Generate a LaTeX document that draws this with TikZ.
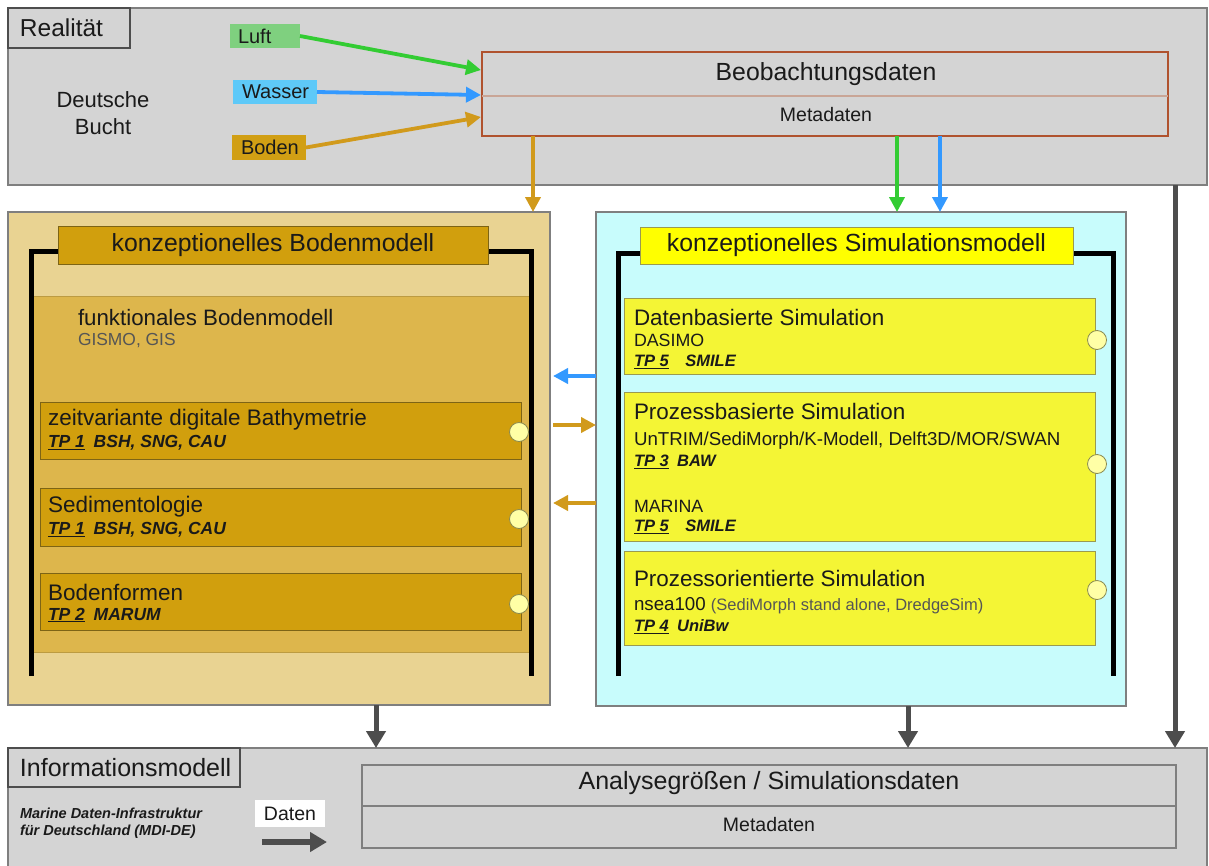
\documentclass[tikz,border=0pt]{standalone}
\usepackage{fontspec}
\setmainfont{Liberation Sans}
\usetikzlibrary{arrows.meta}
\definecolor{rgray}{HTML}{D4D4D4}
\definecolor{bord}{HTML}{7F7F7F}
\definecolor{lgreen}{HTML}{7FD07F}
\definecolor{lblue}{HTML}{5EC9F8}
\definecolor{bodenc}{HTML}{D19F14}
\definecolor{agreen}{HTML}{33CC33}
\definecolor{ablue}{HTML}{3399FF}
\definecolor{agold}{HTML}{D19A1C}
\definecolor{beobline}{HTML}{B0522E}
\definecolor{beobdiv}{HTML}{C9A596}
\definecolor{tanc}{HTML}{E9D392}
\definecolor{innertan}{HTML}{DDB64C}
\definecolor{goldc}{HTML}{D19F0D}
\definecolor{goldline}{HTML}{7D6415}
\definecolor{cyanc}{HTML}{C8FCFC}
\definecolor{ytab}{HTML}{FFFF00}
\definecolor{suby}{HTML}{F4F535}
\definecolor{yline}{HTML}{9A9A50}
\definecolor{knobfill}{HTML}{FFFFA6}
\definecolor{knobline}{HTML}{8A8A50}
\definecolor{dgray}{HTML}{4D4D4D}
\definecolor{txtgray}{HTML}{555555}
\definecolor{txt}{HTML}{1A1A1A}
\newcommand\fsz[1]{\fontsize{#1}{#1}\selectfont}
\newcommand\tp[2]{{\bfseries\itshape\underline{#1}\enspace #2}}
\tikzset{
  box/.style={draw, inner sep=0pt, outer sep=0pt, anchor=north west, text=txt},
  tag/.style={box, inner xsep=0pt, align=left},
  lbl/.style={anchor=west, inner sep=0pt, outer sep=0pt, text=txt},
  ctr/.style={inner sep=0pt, outer sep=0pt, text=txt},
  carr/.style={line width=3.8pt, -{Triangle[width=15pt,length=15pt]}},
  darr/.style={line width=5pt, draw=dgray, -{Triangle[width=19pt,length=17pt]}},
  knob/.style={circle, draw=knobline, fill=knobfill, minimum size=19pt, inner sep=0pt, line width=0.8pt},
  bracket/.style={line width=5pt, line cap=butt, line join=miter},
  subL/.style={box, fill=goldc, draw=goldline, line width=1pt, minimum width=481pt},
  subR/.style={box, fill=suby, draw=yline, line width=1pt, minimum width=471pt},
}
\begin{document}
\begin{tikzpicture}[x=1pt,y=-1pt]
\useasboundingbox (0,0) rectangle (1209,865);
\fill[white] (0,0) rectangle (1209,865);

% ---------- Realitaet ----------
\node[box, fill=rgray, draw=bord, line width=1.5pt, minimum width=1199pt, minimum height=177pt] (real) at (8,8) {};
\node[tag, fill=rgray, draw=dgray, line width=1.2pt, text width=122pt, minimum height=40pt, font=\fsz{24.5}] (realtab) at (8,8) {\hspace*{12pt}Realität};
\node[ctr, align=center, font=\fontsize{22}{27}\selectfont] (bucht) at (103,113) {Deutsche\\Bucht};

\node[tag, fill=lgreen, draw=none, text width=70pt, minimum height=24pt, font=\fsz{20}] (luft) at (230,24) {\hspace*{8pt}Luft};
\node[tag, fill=lblue, draw=none, text width=84pt, minimum height=24pt, font=\fsz{20}] (wasser) at (233,80) {\hspace*{9pt}Wasser};
\node[tag, fill=bodenc, draw=none, text width=74pt, minimum height=25pt, font=\fsz{20}] (boden) at (232,135) {\hspace*{9pt}Boden};

\node[box, fill=rgray, draw=beobline, line width=1.5pt, minimum width=686pt, minimum height=84pt] (beob) at (482,52) {};
\draw[beobdiv, line width=1.5pt] (482,96) -- (1168,96);
\node[ctr, font=\fsz{24.8}] (beobt) at (826,74) {Beobachtungsdaten};
\node[ctr, font=\fsz{19.5}] (beobm) at (826,115) {Metadaten};

\coordinate (in1) at (481,70);
\coordinate (in2) at (481,95);
\coordinate (in3) at (481,117);
\draw[carr, draw=agreen] (luft.east) -- (in1);
\draw[carr, draw=ablue] (wasser.east) -- (in2);
\draw[carr, draw=agold] (boden.east) -- (in3);

% ---------- left panel ----------
\node[box, fill=tanc, draw=bord, line width=1.2pt, minimum width=542pt, minimum height=493pt] (lp) at (8,212) {};
\node[box, fill=innertan, draw=innertan!85!black, line width=1pt, minimum width=496pt, minimum height=356pt] (linner) at (33,296) {};
\draw[bracket] (31,676) -- (31,251) -- (531,251) -- (531,676);
\node[box, fill=goldc, draw=goldline, line width=1pt, minimum width=430pt, minimum height=38pt, font=\fsz{24.8}] (ltab) at (58,226) {konzeptionelles Bodenmodell};

\node[lbl, font=\fsz{22.3}] (funk) at (78,318) {funktionales Bodenmodell};
\node[lbl, font=\fsz{17.4}, text=txtgray] (gismo) at (78,341) {GISMO, GIS};

\node[subL, minimum height=57pt] (zeit) at (40,402) {};
\node[lbl, font=\fsz{22.5}] (zeitt) at (48,420) {zeitvariante digitale Bathymetrie};
\node[lbl, font=\fsz{17.5}] (zeittp) at (48,443) {\tp{TP 1}{BSH, SNG, CAU}};

\node[subL, minimum height=58pt] (sedi) at (40,488) {};
\node[lbl, font=\fsz{22.5}] (sedit) at (48,507) {Sedimentologie};
\node[lbl, font=\fsz{17.5}] (seditp) at (48,530) {\tp{TP 1}{BSH, SNG, CAU}};

\node[subL, minimum height=57pt] (bform) at (40,573) {};
\node[lbl, font=\fsz{22.5}] (bformt) at (48,592) {Bodenformen};
\node[lbl, font=\fsz{17.5}] (bformtp) at (48,615) {\tp{TP 2}{MARUM}};

\node[knob] (k1) at (519,432) {};
\node[knob] (k2) at (519,519) {};
\node[knob] (k3) at (519,604) {};

% ---------- right panel ----------
\node[box, fill=cyanc, draw=bord, line width=1.2pt, minimum width=530pt, minimum height=494pt] (rp) at (596,212) {};
\draw[bracket] (618,676) -- (618,253) -- (1113,253) -- (1113,676);
\node[box, fill=ytab, draw=yline, line width=1pt, minimum width=433pt, minimum height=37pt, font=\fsz{24.8}] (rtab) at (640,227) {konzeptionelles Simulationsmodell};

\node[subR, minimum height=76pt] (dsim) at (624,298) {};
\node[lbl, font=\fsz{22.4}] (dsimt) at (634,317) {Datenbasierte Simulation};
\node[lbl, font=\fsz{17.8}] (dsimm) at (634,340) {DASIMO};
\node[lbl, font=\fsz{16.5}] (dsimtp) at (634,362) {\tp{TP 5}{\enspace SMILE}};

\node[subR, minimum height=149pt] (psim) at (624,392) {};
\node[lbl, font=\fsz{22.4}] (psimt) at (634,411) {Prozessbasierte Simulation};
\node[lbl, font=\fsz{18.7}] (psimm) at (634,441) {UnTRIM/SediMorph/K-Modell, Delft3D/MOR/SWAN};
\node[lbl, font=\fsz{16.5}] (psimtp) at (634,462) {\tp{TP 3}{BAW}};
\node[lbl, font=\fsz{17.8}] (psimm2) at (634,506) {MARINA};
\node[lbl, font=\fsz{16.5}] (psimtp2) at (634,527) {\tp{TP 5}{\enspace SMILE}};

\node[subR, minimum height=94pt] (posim) at (624,551) {};
\node[lbl, font=\fsz{22.4}] (posimt) at (634,578) {Prozessorientierte Simulation};
\node[lbl, font=\fsz{18.7}] (posimm) at (634,606) {nsea100 {\fsz{16.5}\color{txtgray}(SediMorph stand alone, DredgeSim)}};
\node[lbl, font=\fsz{16.5}] (posimtp) at (634,627) {\tp{TP 4}{UniBw}};

\node[knob] (k4) at (1097,340) {};
\node[knob] (k5) at (1097,464) {};
\node[knob] (k6) at (1097,590) {};

% ---------- arrows between panels ----------
\coordinate (ya) at (0,376);
\coordinate (yb) at (0,425);
\coordinate (yc) at (0,503);
\draw[carr, draw=ablue, shorten >=3pt] (rp.west |- ya) -- (lp.east |- ya);
\draw[carr, draw=agold, shorten <=3pt] (lp.east |- yb) -- (rp.west |- yb);
\draw[carr, draw=agold, shorten >=3pt] (rp.west |- yc) -- (lp.east |- yc);

% down arrows from Beobachtungsdaten
\coordinate (xg) at (533,0);
\coordinate (xgr) at (897,0);
\coordinate (xbl) at (940,0);
\draw[carr, draw=agold] (beob.south -| xg) -- (lp.north -| xg);
\draw[carr, draw=agreen] (beob.south -| xgr) -- (rp.north -| xgr);
\draw[carr, draw=ablue] (beob.south -| xbl) -- (rp.north -| xbl);

% ---------- Informationsmodell ----------
\node[box, fill=rgray, draw=bord, line width=1.5pt, minimum width=1199pt, minimum height=130pt] (info) at (8,748) {};
\node[tag, fill=rgray, draw=dgray, line width=1.2pt, text width=232pt, minimum height=39pt, font=\fsz{25}] (infotab) at (8,748) {\hspace*{12pt}Informationsmodell};
\node[lbl, font=\fontsize{14.5}{16.5}\selectfont\bfseries\itshape, align=left] (mdi) at (20,823) {Marine Daten-Infrastruktur\\für Deutschland (MDI-DE)};
\node[box, fill=white, draw=none, minimum width=70pt, minimum height=27pt, font=\fsz{19.5}] (daten) at (255,800) {Daten};
\coordinate (dend) at (327,842);
\draw[line width=6pt, draw=dgray, -{Triangle[width=19pt,length=17pt]}] (daten.south west |- dend) ++(7,0) -- (dend);

\node[box, fill=rgray, draw=bord, line width=1.8pt, minimum width=814pt, minimum height=83pt] (ana) at (362,765) {};
\draw[bord, line width=1.5pt] (362,806) -- (1176,806);
\node[ctr, font=\fsz{25}] (anat) at (769,783) {Analysegrößen / Simulationsdaten};
\node[ctr, font=\fsz{19.5}] (anam) at (769,825) {Metadaten};

% dark arrows
\coordinate (xl) at (376,0);
\coordinate (xr) at (908,0);
\coordinate (xf) at (1175,0);
\draw[darr] (lp.south -| xl) -- (info.north -| xl);
\draw[darr] (rp.south -| xr) -- (info.north -| xr);
\draw[darr] (real.south -| xf) -- (info.north -| xf);
\end{tikzpicture}
\end{document}
